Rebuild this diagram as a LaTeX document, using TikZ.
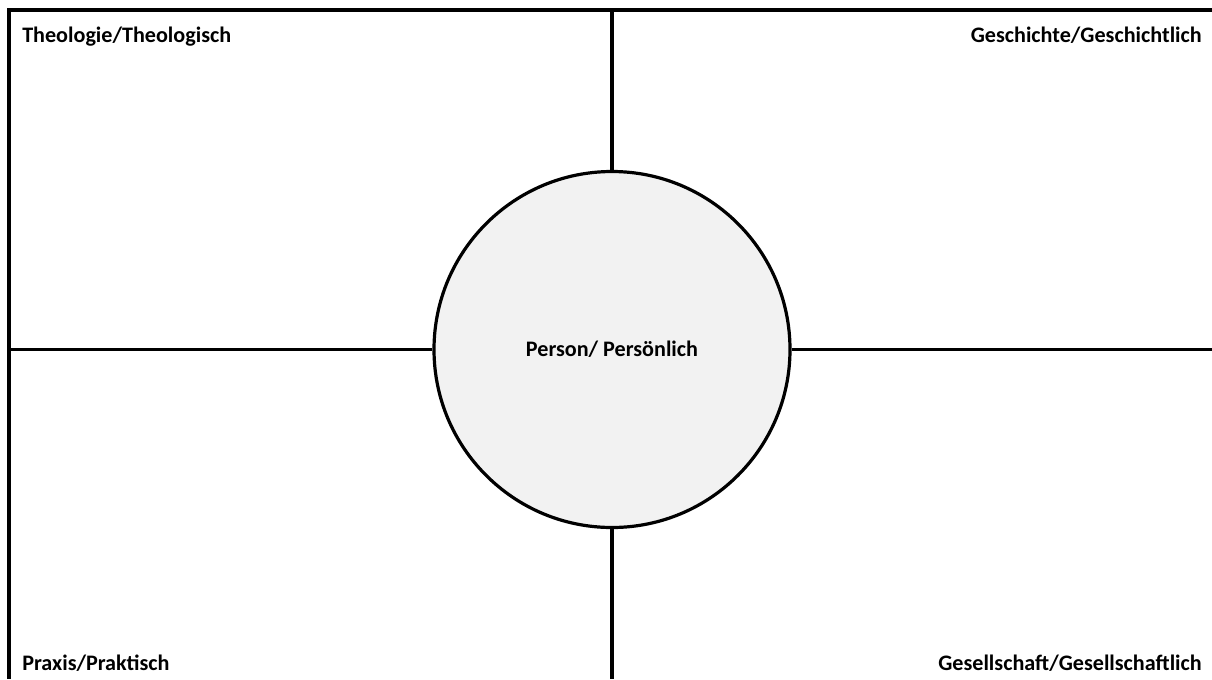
\documentclass[tikz,border=0pt]{standalone}
\usepackage{fontspec}
\setmainfont{Carlito}
\definecolor{ink}{HTML}{000000}
\definecolor{discgray}{HTML}{F2F2F2}
\tikzset{rule/.style={draw=ink, line width=2.4pt},
  corner/.style={font=\fontsize{16.6pt}{20pt}\selectfont\bfseries, text=ink, inner sep=0pt}}

\begin{document}
\begin{tikzpicture}[x=0.75pt, y=-0.75pt]
\useasboundingbox[fill=white] (0,0) rectangle (1212,679);
\draw[rule] (1212,10) -- (9,10) -- (9,679);
\node[circle, draw=ink, fill=discgray, line width=2.4pt, minimum size=267pt, inner sep=0pt] (person) at (612,349.5) {};
\node[corner, anchor=base] (pname) at (612,356.5) {Person/ Persönlich};
\coordinate (topend) at (612,10); \coordinate (botend) at (612,679);
\coordinate (leftend) at (9,349.5); \coordinate (rightend) at (1212,349.5);
\draw[rule] (topend) -- (person.north);
\draw[rule] (person.south) -- (botend);
\draw[rule] (leftend) -- (person.west);
\draw[rule] (person.east) -- (rightend);
\node[corner, anchor=base west] (theo) at (22,42) {Theologie/Theologisch};
\node[corner, anchor=base east] (gesch) at (1202,42) {Geschichte/Geschichtlich};
\node[corner, anchor=base west] (praxis) at (22,670) {Praxis/Praktisch};
\node[corner, anchor=base east] (gesell) at (1202,670) {Gesellschaft/Gesellschaftlich};
\end{tikzpicture}
\end{document}
